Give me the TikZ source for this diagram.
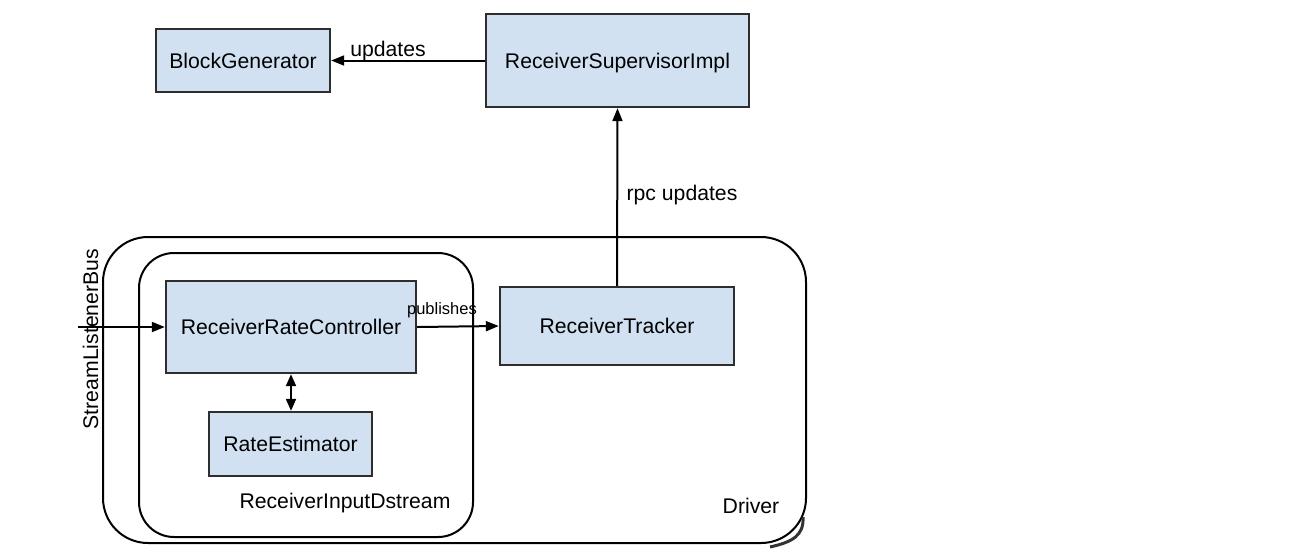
\documentclass[tikz,border=0pt]{standalone}
\usepackage{fontspec}
\setmainfont{Liberation Sans}
\usetikzlibrary{arrows.meta}
\definecolor{boxfill}{HTML}{D1E1F2}
\definecolor{boxline}{HTML}{2E2E2E}
\begin{document}
\begin{tikzpicture}[x=1pt,y=-1pt,
  font=\fontsize{21.2pt}{25pt}\selectfont,
  blk/.style={draw=boxline,fill=boxfill,line width=2.4pt,inner sep=0pt,
    text height=15.2pt,text depth=0pt},
  container/.style={draw=black,line width=2pt},
  conn/.style={draw=black,line width=2pt,-{Triangle[length=13pt,width=10pt]}},
  lbl/.style={inner sep=0pt,anchor=base}]
\useasboundingbox (0,0) rectangle (1295,555);
% containers
\draw[container,rounded corners=45pt] (103,237) rectangle (806,543);
\draw[container,rounded corners=35pt] (139,253) rectangle (473,537);
\draw[line width=3pt,black!80] (803,517) .. controls (804,536) and (792,542) .. (770,547);
% boxes
\node[blk,minimum width=174pt,minimum height=63pt] (bg) at (243,60.5) {BlockGenerator};
\node[blk,minimum width=263pt,minimum height=93pt] (rsi) at (617.5,60.5) {ReceiverSupervisorImpl};
\node[blk,minimum width=250pt,minimum height=92pt] (rrc) at (291,327) {ReceiverRateController};
\node[blk,minimum width=163pt,minimum height=64pt] (re) at (290.5,444) {RateEstimator};
\node[blk,minimum width=234pt,minimum height=78pt] (rt) at (617,326) {ReceiverTracker};
% free end
\coordinate (slb) at (78,327);
% connectors
\draw[conn] (rsi.west |- bg.east) -- (bg.east);
\draw[conn] (rt.north) -- (rsi.south);
\draw[conn] (rrc.east) -- (rt.west);
\draw[conn] (slb) -- (rrc.west);
\draw[draw=black,line width=2pt,{Triangle[length=12pt,width=10pt]}-{Triangle[length=12pt,width=10pt]}] (rrc.south) -- (rrc.south |- re.north);
% labels
\node[lbl] (lupd) at (388,56) {updates};
\node[lbl] (lrpc) at (682,200) {rpc updates};
\node[lbl,font=\fontsize{16.5pt}{18pt}\selectfont] (lpub) at (442,314) {publishes};
\node[lbl] (ldrv) at (751,513) {Driver};
\node[lbl] (lrid) at (345,508) {ReceiverInputDstream};
\node[inner sep=0pt,anchor=base,rotate=90] (lslb) at (98,339) {StreamListenerBus};
\end{tikzpicture}
\end{document}
